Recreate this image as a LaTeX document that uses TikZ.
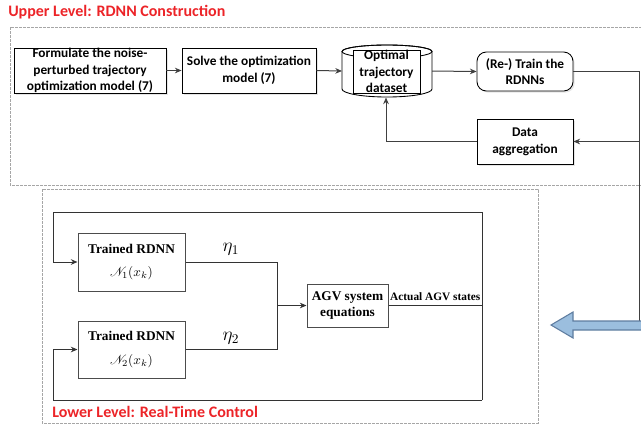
\documentclass[tikz,border=0pt]{standalone}
\usepackage[no-math]{fontspec}
\usepackage{mathrsfs}
\usetikzlibrary{arrows.meta,shadows}
\newfontfamily\calfont{Carlito}
\newfontfamily\serfont{Liberation Serif}
\definecolor{lvlred}{RGB}{236,36,40}
\definecolor{bluefill}{RGB}{155,190,222}
\definecolor{blueedge}{RGB}{95,125,160}
\begin{document}
\begin{tikzpicture}[x=0.75pt,y=-0.75pt,
  ubox/.style={draw=black, line width=0.65pt, fill=white, inner sep=0pt, align=center,
    font=\calfont\bfseries\fontsize{10}{12.6}\selectfont,
    drop shadow={shadow xshift=1.2pt,shadow yshift=-1.2pt,fill=black!20}},
  lbox/.style={draw=black!70, line width=0.75pt, fill=white, inner sep=0pt, align=center,
    font=\serfont\bfseries\fontsize{10}{12.5}\selectfont},
  uline/.style={draw=black!75, line width=0.75pt},
  lline/.style={draw=black!80, line width=0.75pt},
  arr/.style={-{Stealth[length=5pt,width=4.2pt]}},
  frame/.style={draw=black!35, dash pattern=on 2pt off 1pt, line width=0.6pt},
  ttl/.style={text=lvlred, font=\calfont\bfseries\fontsize{12}{14}\selectfont, anchor=west, inner sep=0pt},
  etalbl/.style={font=\fontsize{14}{16}\selectfont, inner sep=0pt},
]
\useasboundingbox (0,0) rectangle (641,426);
% frames
\draw[frame] (10,27) rectangle (660,185);
\draw[frame] (42,189) rectangle (538,423);
\node[ttl] (ttlU) at (8,12) {Upper Level: RDNN Construction};
\node[ttl] (ttlL) at (52,412) {Lower Level: Real-Time Control};

% upper level
\node[ubox, minimum width=152*0.75pt, minimum height=45*0.75pt] (form) at (90,70.5)
  {Formulate the noise-\\perturbed trajectory\\optimization model (7)};
\node[ubox, minimum width=134*0.75pt, minimum height=45*0.75pt] (solve) at (249,70.5)
  {Solve the optimization\\model (7)};

% database cylinder
\draw[line width=0.65pt, fill=white] (342,51.5) -- (342,89)
  arc[start angle=180, end angle=0, x radius=45, y radius=8] -- (432,51.5)
  arc[start angle=0, end angle=-180, x radius=45, y radius=6.5] -- cycle;
\draw[line width=0.65pt] (387,51.5) ellipse[x radius=45, y radius=6.5];
\node[draw=black, line width=0.65pt, fill=white, inner sep=0pt, align=center,
  font=\calfont\bfseries\fontsize{10}{12.6}\selectfont,
  minimum width=67*0.75pt, minimum height=43*0.75pt] (data) at (386.5,71.5)
  {Optimal\\trajectory\\dataset};
\coordinate (datL) at (342,71);
\coordinate (datR) at (432,71);
\coordinate (datB) at (386,97.5);

\node[ubox, rounded corners=7pt, minimum width=96*0.75pt, minimum height=39*0.75pt] (train) at (525,71.5)
  {(Re-) Train the\\RDNNs};
\node[ubox, minimum width=96*0.75pt, minimum height=45*0.75pt] (agg) at (525,141.5)
  {Data\\aggregation};

\coordinate (cR) at (639,71.5);
\coordinate (cA) at (639,141.5);
\coordinate (cD) at (639,321);
\draw[uline,arr] (form.east) -- (solve.west);
\draw[uline,arr] (solve.east) -- (datL);
\draw[uline,arr] (datR) -- (train.west);
\draw[uline] (train.east) -- (cR) -- (cD);
\draw[uline,arr] (cA) -- (agg.east);
\draw[uline,arr] (agg.west) -| (datB);

% big blue arrow
\draw[draw=blueedge, fill=bluefill, line width=0.8pt, line join=miter]
  (551,325) -- (573,312) -- (573,321) -- (648,321) -- (648,330) -- (573,330) -- (573,338) -- cycle;

% lower level
\node[lbox, minimum width=107*0.75pt, minimum height=58*0.75pt] (nn1) at (131.5,262)
  {Trained RDNN\\[5pt]{\mdseries\fontsize{10}{12}\selectfont$\mathscr{N}_1(x_k)$}};
\node[lbox, minimum width=107*0.75pt, minimum height=57*0.75pt] (nn2) at (131.5,349.5)
  {Trained RDNN\\[5pt]{\mdseries\fontsize{10}{12}\selectfont$\mathscr{N}_2(x_k)$}};
\node[lbox, minimum width=81*0.75pt, minimum height=43*0.75pt] (agv) at (347.5,305.5)
  {AGV system\\equations};

\node[etalbl] (eta1) at (231,249) {$\eta_1$};
\node[etalbl] (eta2) at (231,338) {$\eta_2$};

\coordinate (mj) at (277,305.5);
\coordinate (o) at (482,305.5);
\coordinate (oT) at (482,212);
\coordinate (oB) at (482,400);
\coordinate (lT) at (53,212);
\coordinate (lB) at (53,400);

\draw[lline] (nn1.east) -| (mj);
\draw[lline] (nn2.east) -| (mj);
\draw[lline,arr] (mj) -- (agv.west);
\draw[lline] (agv.east) -- (o) node[midway, above, inner sep=3pt,
  font=\serfont\bfseries\fontsize{8.5}{10}\selectfont] (lblact) {Actual AGV states};
\draw[lline] (oT) -- (oB);
\draw[lline,arr] (oT) -- (lT) |- (nn1.west);
\draw[lline,arr] (oB) -- (lB) |- (nn2.west);
\end{tikzpicture}
\end{document}
